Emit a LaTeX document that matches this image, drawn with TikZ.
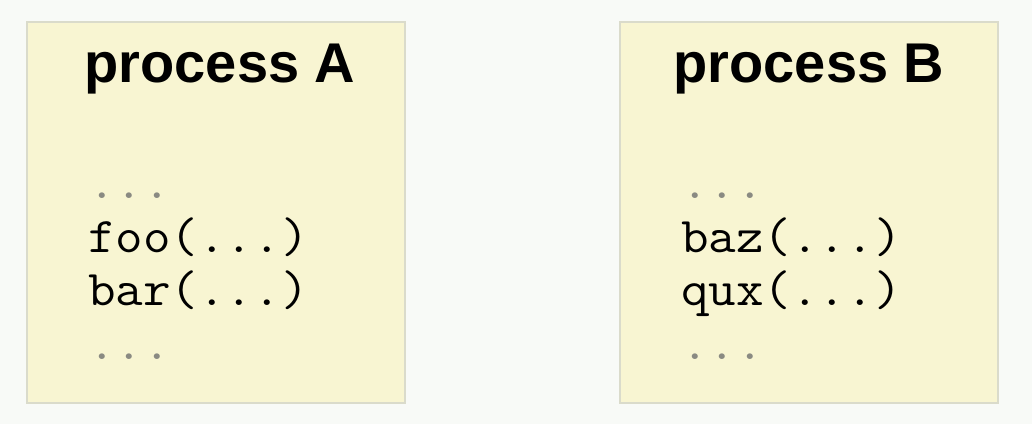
\documentclass[tikz,border=0pt]{standalone}
\usepackage{fontspec}
\setmainfont{Liberation Sans}
\usetikzlibrary{positioning}
\definecolor{bgcol}{HTML}{F8FAF7}
\definecolor{boxcol}{HTML}{F8F5D2}
\definecolor{edgecol}{HTML}{DADBCB}
\definecolor{dotcol}{HTML}{8A8A82}
\newcommand{\wide}[1]{\scalebox{1.07}[1]{#1}}
\tikzstyle{process} = [rectangle, draw=edgecol, fill=boxcol, line width=1.2pt,
	minimum width=378pt, minimum height=381pt, inner sep=0pt]
\tikzstyle{title} = [font=\fontsize{56}{60}\selectfont\bfseries,
	anchor=base, inner sep=0pt]
\tikzstyle{code} = [font=\fontsize{50}{54}\selectfont\ttfamily,
	anchor=base west, inner sep=0pt]
\tikzstyle{gap} = [code, text=dotcol]
\begin{document}
\begin{tikzpicture}[x=1pt, y=-1pt]

	% Page
	\fill [bgcol] (0,0) rectangle (1032,424);
	\useasboundingbox (0,0) rectangle (1032,424);

	% Place boxes
	\node [process] (procA) at (216,212.5) {};
	\node [process] (procB) at (809,212.5) {};

	% Titles
	\node [title] (titleA) at (220,82) {process A};
	\node [title] (titleB) at (809,82) {process B};

	% Code of process A
	\node [gap] (gapA1) at (88,198) {\wide{...}};
	\node [code] (foo) at (88,252) {\wide{foo(...)}};
	\node [code] (bar) at (88,305.5) {\wide{bar(...)}};
	\node [gap] (gapA2) at (88,359) {\wide{...}};

	% Code of process B
	\node [gap] (gapB1) at (681,198) {\wide{...}};
	\node [code] (baz) at (681,252) {\wide{baz(...)}};
	\node [code] (qux) at (681,305.5) {\wide{qux(...)}};
	\node [gap] (gapB2) at (681,359) {\wide{...}};
\end{tikzpicture}
\end{document}
